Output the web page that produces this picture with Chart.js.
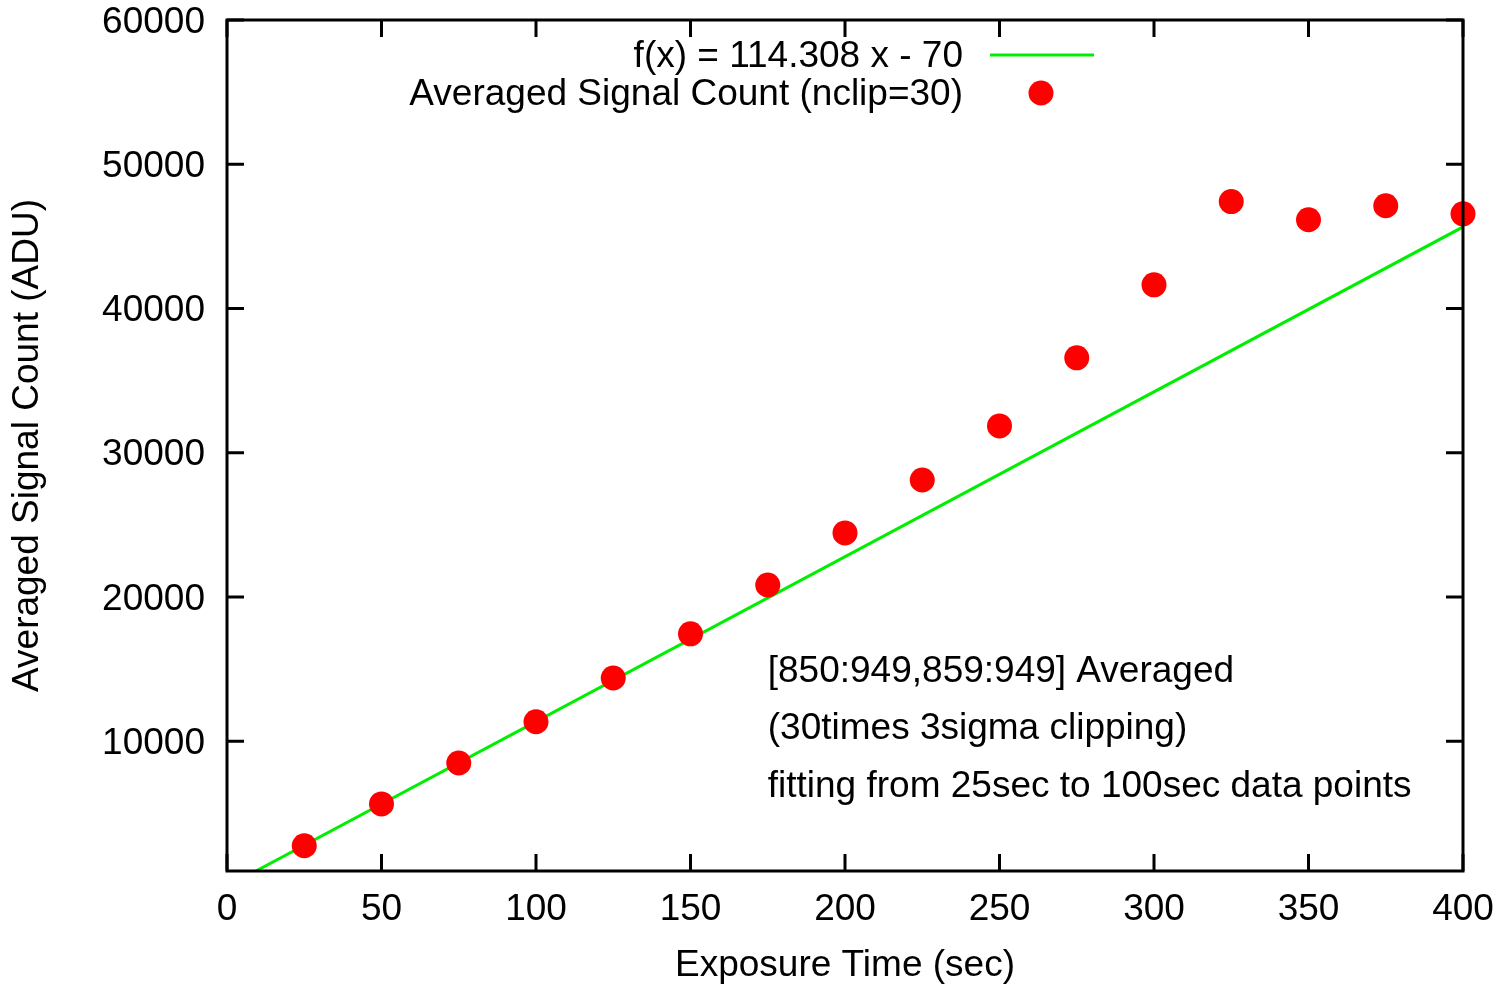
<!DOCTYPE html>
<html>
<head>
<meta charset="utf-8">
<script src="https://cdn.jsdelivr.net/npm/chart.js@4.4.1/dist/chart.umd.min.js"></script>
<style>
body { margin: 0; background: #fff; }
</style>
</head>
<body>
<canvas id="myChart" width="1503" height="988"></canvas>
<script>
var exposureTimes = [25, 50, 75, 100, 125, 150, 175, 200, 225, 250, 275, 300, 325, 350, 375, 400];
var signalCounts = [2750, 5650, 8490, 11350, 14380, 17440, 20830, 24440, 28110, 31860, 36580, 41640, 47410, 46150, 47120, 46560];

// fit line f(x) = 114.308 x - 70, drawn between these x values
var fitSlope = 114.308;
var fitIntercept = -70;
var fitRange = [9.36, 400];

var xTicks = [0, 50, 100, 150, 200, 250, 300, 350, 400];
var yTicks = [10000, 20000, 30000, 40000, 50000, 60000];

var notes = ["[850:949,859:949] Averaged", "(30times 3sigma clipping)", "fitting from 25sec to 100sec data points"];
var noteX = 175;
var noteY = [15000, 11000, 7000];

var FONT = '"Liberation Sans", Arial, sans-serif';
var FS = 37;

var frame = {
    id: 'frame',
    afterDraw: function(chart) {
        var c = chart.ctx, a = chart.chartArea;
        var xs = chart.scales.x, ys = chart.scales.y;
        var tl = 17;
        c.save();
        c.strokeStyle = '#000';
        c.lineWidth = 3;
        c.beginPath();
        xTicks.forEach(function(v) {
            var px = xs.getPixelForValue(v);
            c.moveTo(px, a.bottom); c.lineTo(px, a.bottom - tl);
            c.moveTo(px, a.top); c.lineTo(px, a.top + tl);
        });
        yTicks.forEach(function(v) {
            var py = ys.getPixelForValue(v);
            c.moveTo(a.left, py); c.lineTo(a.left + tl, py);
            c.moveTo(a.right, py); c.lineTo(a.right - tl, py);
        });
        c.stroke();
        c.strokeRect(a.left, a.top, a.right - a.left, a.bottom - a.top);

        // notes
        c.fillStyle = '#000';
        c.font = FS + 'px ' + FONT;
        c.textAlign = 'left';
        c.textBaseline = 'middle';
        notes.forEach(function(t, i) {
            c.fillText(t, xs.getPixelForValue(noteX), ys.getPixelForValue(noteY[i]) + 2.5);
        });

        // key
        c.textAlign = 'right';
        c.fillText('f(x) = 114.308 x - 70', 963, 57);
        c.fillText('Averaged Signal Count (nclip=30)', 963, 95);
        c.strokeStyle = '#00ee00';
        c.lineWidth = 3;
        c.beginPath();
        c.moveTo(990, 55); c.lineTo(1094, 55);
        c.stroke();
        c.fillStyle = '#ff0000';
        c.beginPath();
        c.arc(1041, 93, 12.5, 0, Math.PI * 2);
        c.fill();
        c.restore();
    }
};

var ctx = document.getElementById('myChart').getContext('2d');

var myGraph = new Chart(ctx, {
    type: 'scatter',
    data: {
        datasets: [
            {
                label: 'f(x) = 114.308 x - 70',
                data: fitRange.map(function(x) { return {x: x, y: fitSlope * x + fitIntercept}; }),
                showLine: true,
                borderColor: '#00ee00',
                borderWidth: 3,
                pointRadius: 0,
                order: 2
            },
            {
                label: 'Averaged Signal Count (nclip=30)',
                data: exposureTimes.map(function(x, i) { return {x: x, y: signalCounts[i]}; }),
                backgroundColor: '#ff0000',
                borderWidth: 0,
                pointRadius: 12.5,
                clip: false,
                order: 1
            }
        ]
    },
    options: {
        responsive: false,
        animation: false,
        layout: { padding: { top: 20, right: 40, left: 0, bottom: 0 } },
        plugins: {
            legend: { display: false },
            tooltip: { enabled: false }
        },
        scales: {
            x: {
                type: 'linear',
                min: 0,
                max: 400,
                afterBuildTicks: function(s) { s.ticks = xTicks.map(function(v) { return {value: v}; }); },
                afterFit: function(s) { s.height = 117; s.paddingLeft = 0; s.paddingRight = 0; },
                grid: { display: false, drawTicks: false },
                border: { display: false },
                ticks: { color: '#000', padding: 17, maxRotation: 0, font: { family: FONT, size: FS },
                    callback: function(v) { return String(v); } },
                title: { display: true, text: 'Exposure Time (sec)', color: '#000', padding: { top: 0, bottom: 0 }, font: { family: FONT, size: FS } }
            },
            y: {
                min: 1000,
                max: 60000,
                afterBuildTicks: function(s) { s.ticks = yTicks.map(function(v) { return {value: v}; }); },
                afterFit: function(s) { s.width = 227; s.paddingTop = 0; s.paddingBottom = 0; },
                grid: { display: false, drawTicks: false },
                border: { display: false },
                ticks: { color: '#000', padding: 22, labelOffset: 2.5, font: { family: FONT, size: FS },
                    callback: function(v) { return String(v); } },
                title: { display: true, text: 'Averaged Signal Count (ADU)', color: '#000', padding: { top: 6, bottom: 0 }, font: { family: FONT, size: FS } }
            }
        }
    },
    plugins: [frame]
});
</script>
</body>
</html>
